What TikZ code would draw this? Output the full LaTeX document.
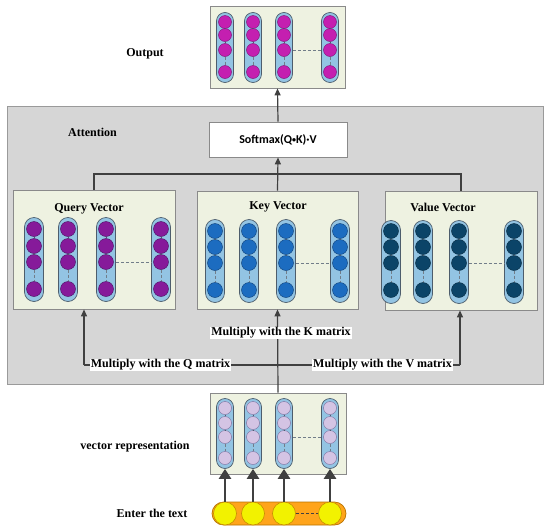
\documentclass[tikz,border=0pt]{standalone}
\usepackage{fontspec}
\setmainfont{Liberation Serif}
\newfontfamily\calfont{Carlito}
\usetikzlibrary{arrows.meta,calc}
\definecolor{attfill}{HTML}{D6D6D6}
\definecolor{attdraw}{HTML}{9A9A9A}
\definecolor{boxfill}{HTML}{EEF2E1}
\definecolor{boxdraw}{HTML}{8A8A8A}
\definecolor{capfill}{HTML}{93C4E3}
\definecolor{capdraw}{HTML}{4D5D6C}
\definecolor{linec}{HTML}{404040}
\definecolor{qcol}{HTML}{861A9A}
\definecolor{qdraw}{HTML}{4A1060}
\definecolor{kcol}{HTML}{1C6CC0}
\definecolor{kdraw}{HTML}{0E3F78}
\definecolor{vcol}{HTML}{0B4468}
\definecolor{vdraw}{HTML}{062A40}
\definecolor{ocol}{HTML}{C41FB0}
\definecolor{odraw}{HTML}{7A1070}
\definecolor{rcol}{HTML}{D4C4E4}
\definecolor{rdraw}{HTML}{7A6A9A}
\definecolor{ycol}{HTML}{F2F200}
\definecolor{ydraw}{HTML}{C79000}
\definecolor{orfill}{HTML}{FFA41B}
\definecolor{ordraw}{HTML}{B87300}
\tikzset{
  attbox/.style={draw=attdraw, fill=attfill, line width=0.8pt, inner sep=0},
  gbox/.style={draw=boxdraw, fill=boxfill, line width=0.8pt, inner sep=0},
  smbox/.style={draw=boxdraw, fill=white, line width=0.8pt, inner sep=0, font=\calfont\bfseries\fontsize{12}{14}\selectfont},
  capsule/.style={draw=capdraw, fill=capfill, line width=0.7pt, inner sep=0},
  ocirc/.style={circle, draw=odraw, fill=ocol, line width=0.4pt, inner sep=0, minimum size=13pt},
  qcirc/.style={circle, draw=qdraw, fill=qcol, line width=0.4pt, inner sep=0, minimum size=15pt},
  kcirc/.style={circle, draw=kdraw, fill=kcol, line width=0.4pt, inner sep=0, minimum size=15pt},
  vcirc/.style={circle, draw=vdraw, fill=vcol, line width=0.4pt, inner sep=0, minimum size=15pt},
  rcirc/.style={circle, draw=rdraw, fill=rcol, line width=0.4pt, inner sep=0, minimum size=13pt},
  ycirc/.style={circle, draw=ydraw, fill=ycol, line width=0.6pt, inner sep=0, minimum size=23pt},
  title/.style={font=\bfseries\fontsize{12}{14}\selectfont, inner sep=1pt},
  lbl/.style={font=\bfseries\fontsize{12}{14}\selectfont, fill=white, inner sep=1pt},
  conn/.style={draw=linec, line width=1.2pt},
  arr/.style={conn, -{Triangle[width=6pt,length=7pt]}},
  bigarr/.style={draw=linec, line width=2.8pt, -{Triangle[width=12pt,length=10pt]}},
  inner/.style={draw=capdraw, line width=0.7pt},
  innerd/.style={draw=capdraw!80, line width=0.8pt, dash pattern=on 3pt off 2pt},
}
% #1 prefix, #2 xs, #3 capsule centre y, #4 capsule height, #5 capsule half width, #6 circle style, #7 circle ys
\newcommand\colgrp[7]{%
  \foreach \cx [count=\ci] in {#2}{%
    \node[capsule, minimum width={2*#5}, minimum height=#4, rounded corners=#5] (#1cap\ci) at (\cx,#3) {};
    \foreach \cy [count=\cj] in {#7}{%
      \node[#6] (#1c\ci\cj) at (\cx,\cy) {};
    }
    \draw[inner] (#1c\ci1) -- (#1c\ci2);
    \draw[inner] (#1c\ci2) -- (#1c\ci3);
    \draw[innerd] (#1c\ci3) -- (#1c\ci4);
  }
  \draw[innerd] (#1cap3.east |- #1c33) -- (#1cap4.west |- #1c43);
}
\begin{document}
\begin{tikzpicture}[x=1pt,y=-1pt]
\useasboundingbox (0,0) rectangle (550,528);
% containers
\node[attbox, minimum width=536pt, minimum height=278pt] (att) at (275,245) {};
\node[gbox, minimum width=135pt, minimum height=82pt] (out) at (277.5,47) {};
\node[smbox, minimum width=138pt, minimum height=35pt] (sm) at (278,139.5) {Softmax(Q\raisebox{1pt}{\fontsize{8}{8}\selectfont •}K)·V};
\node[gbox, minimum width=162pt, minimum height=119pt] (q) at (94,249.5) {};
\node[gbox, minimum width=161pt, minimum height=118pt] (k) at (277.5,250) {};
\node[gbox, minimum width=152pt, minimum height=119pt] (v) at (461,250.5) {};
\node[gbox, minimum width=136pt, minimum height=81pt] (vr) at (278,433.5) {};
% titles
\node[title] (tout) at (145,54) {Output};
\node[title] (tatt) at (92.5,132) {Attention};
\node[title] (tq) at (89,209) {Query Vector};
\node[title] (tk) at (278,207) {Key Vector};
\node[title] (tv) at (443,207) {Value Vector};
\node[title] (tvr) at (135,447) {vector representation};
\node[title] (tin) at (152,513) {Enter the text};
% column groups
\colgrp{o}{225,253,284,330}{47.5}{70pt}{8.5pt}{ocirc}{22,35,50,72}
\colgrp{q}{34,68,106,161}{259.5}{84pt}{9.5pt}{qcirc}{229,246,262,289}
\colgrp{k}{215,249,286,340}{261}{83pt}{9.5pt}{kcirc}{231,247,263,290}
\colgrp{v}{391,423,459,514}{262}{83pt}{9.5pt}{vcirc}{231,247,263,290}
\colgrp{r}{225,253,284,330}{433.5}{70pt}{8.5pt}{rcirc}{408,423,437,458}
% input capsule
\node[draw=ordraw, fill=orfill, line width=0.7pt, minimum width=134pt, minimum height=23pt, rounded corners=11.5pt, inner sep=0] (inp) at (279,513.5) {};
\foreach \cx [count=\ci] in {225,253,284,330}{
  \node[ycirc] (y\ci) at (\cx,513.5) {};
}
\draw[innerd, draw=linec] (y3) -- (y4);
\foreach \ci in {1,2,3,4}{
  \draw[bigarr] (y\ci.north) -- (rcap\ci.south);
}
% connectors in attention
\coordinate (hub) at (277.5,174);
\draw[conn] (q.north) -- (q.north |- hub) -- (v.north |- hub) -- (v.north);
\draw[arr] (k.north) -- (sm.south);
\draw[arr] (sm.north) -- (out.south);
% bottom connectors
\coordinate (qa) at (84,365);
\coordinate (va) at (460,365);
\draw[conn] (qa) -- (va);
\draw[arr] (qa) -- (qa |- q.south);
\draw[arr] (va) -- (va |- v.south);
\draw[arr] (vr.north) -- (k.south);
% labels
\node[lbl] (ql) at (160.5,365) {Multiply with the Q matrix};
\node[lbl] (vl) at (382.5,365) {Multiply with the V matrix};
\node[lbl] (kl) at (281,333) {Multiply with the K matrix};
\end{tikzpicture}
\end{document}
